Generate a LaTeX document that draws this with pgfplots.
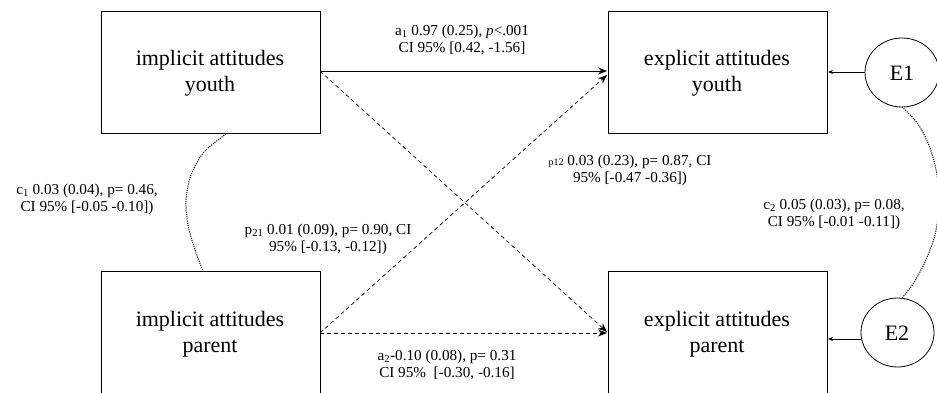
\documentclass[border=0pt]{standalone}
\usepackage{pgfplots}
\pgfplotsset{compat=1.18}
\usepackage{fontspec}
\setmainfont{Liberation Serif}
\usetikzlibrary{arrows.meta}
\newcommand{\sm}{\fontsize{15.2}{17}\selectfont}
\newcommand{\bg}{\fontsize{22}{26}\selectfont}
\begin{document}
\begin{tikzpicture}
\begin{axis}[width=937pt,height=393pt,scale only axis,
  xmin=0,xmax=937,ymin=0,ymax=393,y dir=reverse,hide axis,clip=true]
% boxes
\addplot[black,line width=0.8pt,no marks] coordinates {(101,11)(320,11)(320,133)(101,133)(101,11)};
\addplot[black,line width=0.8pt,no marks] coordinates {(608,11)(827,11)(827,133)(608,133)(608,11)};
\addplot[black,line width=0.8pt,no marks] coordinates {(101,420)(101,271)(320,271)(320,420)};
\addplot[black,line width=0.8pt,no marks] coordinates {(608,420)(608,271)(827,271)(827,420)};
% error ellipses
\draw[line width=0.8pt] (axis cs:902,72.5) ellipse [x radius=37pt, y radius=34.5pt];
\draw[line width=0.8pt] (axis cs:897.5,332.5) ellipse [x radius=36.5pt, y radius=34.5pt];
% paths
\addplot[black,line width=0.8pt,no marks,-{Stealth[length=9pt,width=7pt,inset=3pt]}] coordinates {(320,71)(607,71)};
\addplot[black,line width=0.7pt,no marks,dash pattern=on 4pt off 3pt,-{Stealth[length=9pt,width=7pt,inset=3pt]}] coordinates {(320,71)(607,332)};
\addplot[black,line width=0.7pt,no marks,dash pattern=on 4pt off 3pt,-{Stealth[length=9pt,width=7pt,inset=3pt]}] coordinates {(320,333)(607,75)};
\addplot[black,line width=0.7pt,no marks,dash pattern=on 4pt off 3pt,-{Stealth[length=9pt,width=7pt,inset=3pt]}] coordinates {(320,333)(607,333)};
\addplot[black,line width=0.8pt,no marks,-{Stealth[length=5pt,width=4pt,inset=1.5pt]}] coordinates {(865,72)(828,72)};
\addplot[black,line width=0.8pt,no marks,-{Stealth[length=5pt,width=4pt,inset=1.5pt]}] coordinates {(861,339)(828,339)};
% covariances
\addplot[black,line width=1pt,no marks,smooth,dash pattern=on 1.1pt off 1.1pt] coordinates {(226,134)(204,152)(191,175)(186,200)(188,225)(195,250)(203,271)};
\addplot[black,line width=1pt,no marks,smooth,dash pattern=on 1.1pt off 1.1pt] coordinates {(902,107)(918,124)(930,148)(937,175)(939,205)(935,235)(925,262)(913,284)(902,298)};
% box labels
\node[align=center,font=\bg] at (axis cs:210,73) {implicit attitudes\\youth};
\node[align=center,font=\bg] at (axis cs:717,73) {explicit attitudes\\youth};
\node[align=center,font=\bg] at (axis cs:210,334) {implicit attitudes\\parent};
\node[align=center,font=\bg] at (axis cs:717,334) {explicit attitudes\\parent};
\node[font=\bg] at (axis cs:902,73) {E1};
\node[font=\bg] at (axis cs:897,333) {E2};
% path labels
\node[align=center,font=\sm] at (axis cs:462,40) {a\textsubscript{1} 0.97 (0.25), \textit{p}<.001\\CI 95\% [0.42, -1.56]};
\node[align=center,font=\sm] at (axis cs:630,170) {{\fontsize{10}{10}\selectfont p12} 0.03 (0.23), p= 0.87, CI\\95\% [-0.47 -0.36])};
\node[align=center,font=\sm] at (axis cs:328,239) {p\textsubscript{21} 0.01 (0.09), p= 0.90, CI\\95\% [-0.13, -0.12])};
\node[align=center,font=\sm] at (axis cs:447,365) {a\textsubscript{2}-0.10 (0.08), p= 0.31\\CI 95\%~~[-0.30, -0.16]};
\node[align=center,font=\sm] at (axis cs:87,199) {c\textsubscript{1} 0.03 (0.04), p= 0.46,\\CI 95\% [-0.05 -0.10])};
\node[align=center,font=\sm] at (axis cs:834,214) {c\textsubscript{2} 0.05 (0.03), p= 0.08,\\CI 95\% [-0.01 -0.11])};
\end{axis}
\pgfresetboundingbox
\useasboundingbox (current axis.south west) rectangle (current axis.north east);
\end{tikzpicture}
\end{document}
